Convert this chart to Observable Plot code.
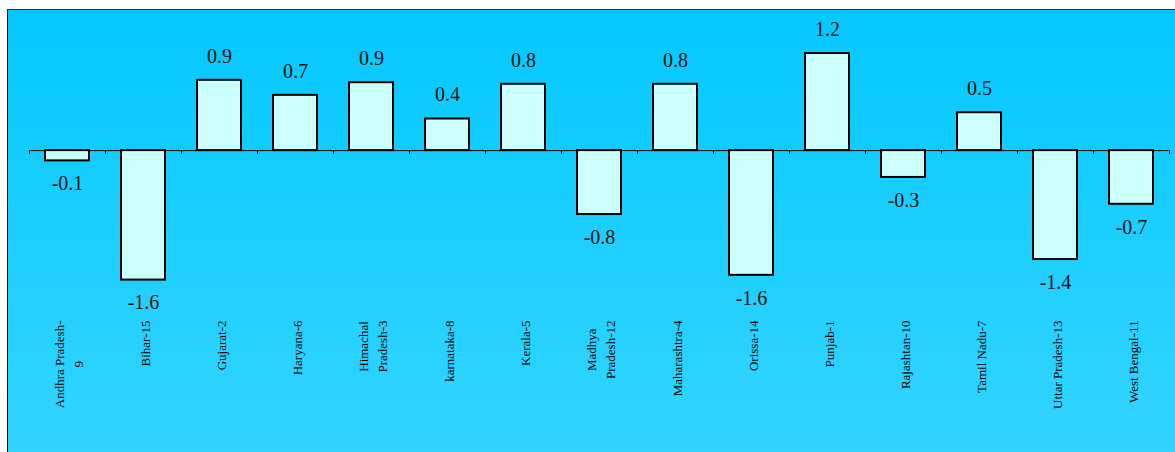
<!DOCTYPE html>
<html><head><meta charset="utf-8">
<script src="https://cdn.jsdelivr.net/npm/d3@7"></script>
<script src="https://cdn.jsdelivr.net/npm/@observablehq/plot@0.6"></script>
<style>
html,body{margin:0;padding:0;background:#fff;width:1175px;height:452px;overflow:hidden}
#frame{position:absolute;left:7px;top:9px;width:1200px;height:470px;border-left:1.5px solid #111;border-top:1.5px solid #333;background:linear-gradient(to bottom,#05C8FE,#36D5FF)}
#chart{position:absolute;left:0;top:0}
</style></head><body><div id="frame"></div><div id="chart"></div>
<script>
const categories = ["Andhra Pradesh-9","Bihar-15","Gujarat-2","Haryana-6","Himachal Pradesh-3","karnataka-8","Kerala-5","Madhya Pradesh-12","Maharashtra-4","Orissa-14","Punjab-1","Rajashtan-10","Tamil Nadu-7","Uttar Pradesh-13","West Bengal-11"];
const axisLabels = ["Andhra Pradesh-\n9","Bihar-15","Gujarat-2","Haryana-6","Himachal\nPradesh-3","karnataka-8","Kerala-5","Madhya\nPradesh-12","Maharashtra-4","Orissa-14","Punjab-1","Rajashtan-10","Tamil Nadu-7","Uttar Pradesh-13","West Bengal-11"];
const values = [-0.13,-1.64,0.89,0.70,0.86,0.40,0.84,-0.81,0.84,-1.58,1.23,-0.34,0.48,-1.38,-0.68];

const W = 1175, H = 452, ML = 28.7, MR = 6.3, MT = 8, MB = 144;
const n = categories.length;
const step = (W - ML - MR) / n;
const data = categories.map((c, i) => ({c, v: values[i], label: axisLabels[i]}));
const serif = "'Liberation Serif','Times New Roman',serif";
const ctx = document.createElement("canvas").getContext("2d");
ctx.font = `13px 'Liberation Serif'`;

const labelMarks = data.map(d => {
  const L = Math.max(...d.label.split("\n").map(s => ctx.measureText(s).width));
  return Plot.text([d], {x: "c", text: "label", frameAnchor: "bottom", rotate: -90,
    textAnchor: "middle", lineAnchor: "middle", lineHeight: 1.5, dy: 12 + L / 2,
    fontSize: 13, fontFamily: serif, fill: "#000"});
});

const chart = Plot.plot({
  width: W, height: H,
  marginLeft: ML, marginRight: MR, marginTop: MT, marginBottom: MB,
  style: {background: "transparent", overflow: "visible"},
  x: {domain: categories, paddingInner: 0.42, paddingOuter: 0.21, axis: null},
  y: {domain: [-2, 1.8], axis: null},
  marks: [
    Plot.ruleY([0], {stroke: "#000", strokeWidth: 1}),
    Plot.ruleX(data, {x: "c", y1: 0, y2: -0.05, dx: -step / 2, stroke: "#000"}),
    Plot.ruleX([data[n - 1]], {x: "c", y1: 0, y2: -0.05, dx: step / 2, stroke: "#000"}),
    Plot.barY(data, {x: "c", y: "v", fill: "#CCFFFF", stroke: "#000", strokeWidth: 2}),
    Plot.text(data.filter(d => d.v >= 0), {x: "c", y: "v", text: d => d.v.toFixed(1),
      dy: -24, lineAnchor: "middle", fontSize: 20, fontFamily: serif, fill: "#111"}),
    Plot.text(data.filter(d => d.v < 0), {x: "c", y: "v", text: d => d.v.toFixed(1),
      dy: 23, lineAnchor: "middle", fontSize: 20, fontFamily: serif, fill: "#111"}),
    ...labelMarks
  ]
});
document.getElementById("chart").appendChild(chart);
</script>
</body></html>
